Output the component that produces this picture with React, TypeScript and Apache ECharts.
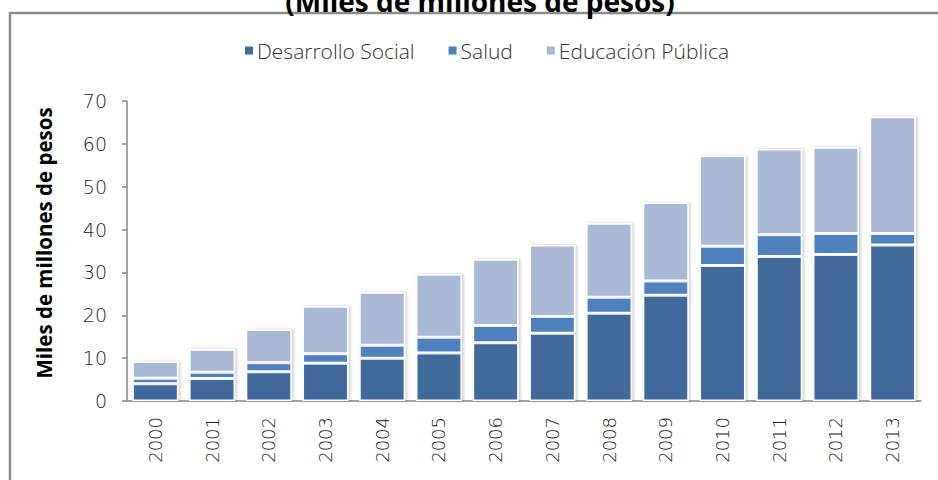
import React, { useEffect, useRef } from "react";
import * as echarts from "echarts";

const years = ["2000", "2001", "2002", "2003", "2004", "2005", "2006", "2007", "2008", "2009", "2010", "2011", "2012", "2013"];
const desarrolloSocial = [4.0, 5.25, 6.8, 8.8, 10.0, 11.2, 13.6, 15.8, 20.5, 24.7, 31.6, 33.7, 34.2, 36.4];
const salud = [1.3, 1.45, 2.1, 2.2, 3.0, 3.7, 4.0, 3.9, 3.7, 3.3, 4.5, 5.1, 4.9, 2.7];
const educacionPublica = [3.9, 5.4, 7.8, 11.1, 12.4, 14.7, 15.5, 16.7, 17.3, 18.3, 21.1, 20.0, 20.1, 27.2];
const seriesNames = ["Desarrollo Social", "Salud", "Educación Pública"];
const yTicks = { min: 0, max: 70, interval: 10 };
const titleText = "(Miles de millones de pesos)";
const yAxisTitle = "Miles de millones de pesos";

const colors = ["#3F6A9B", "#4F81BD", "#AAB9D6"];

export default function App() {
  const ref = useRef<HTMLDivElement>(null);
  useEffect(() => {
    if (!ref.current) return;
    const chart = echarts.init(ref.current, null, { renderer: "svg" });
    const barStyle = (c: string) => ({
      color: c,
      borderColor: "#ffffff",
      borderWidth: 1.5,
      shadowColor: "rgba(0,0,0,0.22)",
      shadowBlur: 3,
      shadowOffsetX: 1.5,
      shadowOffsetY: 0,
    });
    const data = [desarrolloSocial, salud, educacionPublica];
    chart.setOption({
      animation: false,
      backgroundColor: "#ffffff",
      color: colors,
      graphic: [
        {
          type: "rect",
          shape: { x: 10, y: 13, width: 1000, height: 600 },
          style: { fill: "none", stroke: "#8a8a8a", lineWidth: 2.5 },
          z: 0,
        },
        {
          type: "text",
          x: 480,
          y: 1,
          style: {
            text: titleText,
            fontFamily: "Open Sans",
            fontWeight: "bold",
            fontSize: 28,
            fill: "#000000",
            align: "center",
            verticalAlign: "middle",
          },
        },
        {
          type: "text",
          x: 44,
          y: 243,
          rotation: Math.PI / 2,
          style: {
            text: yAxisTitle,
            fontFamily: "Open Sans",
            fontWeight: "bold",
            fontSize: 20.5,
            fill: "#000000",
            align: "center",
            verticalAlign: "middle",
          },
        },
      ],
      legend: {
        top: 35,
        left: 238,
        itemWidth: 10,
        itemHeight: 10,
        itemGap: 32,
        icon: "rect",
        data: seriesNames,
        textStyle: { fontFamily: "Open Sans", fontSize: 21, fontWeight: 300, color: "#333333", padding: [0, 0, 0, -2] },
      },
      grid: { left: 127, right: 17, top: 101, bottom: 79, containLabel: false },
      xAxis: {
        type: "category",
        data: years,
        axisLine: { lineStyle: { color: "#868686", width: 1.5 } },
        axisTick: { show: false },
        axisLabel: {
          rotate: 90,
          margin: 16,
          fontFamily: "DejaVu Sans",
          fontWeight: 200,
          fontSize: 18,
          color: "#222222",
        },
      },
      yAxis: {
        type: "value",
        min: yTicks.min,
        max: yTicks.max,
        interval: yTicks.interval,
        axisLine: { show: true, lineStyle: { color: "#868686", width: 1.5 } },
        axisTick: { show: true, length: 5, lineStyle: { color: "#868686", width: 1.5 } },
        splitLine: { show: false },
        axisLabel: {
          margin: 20,
          fontFamily: "DejaVu Sans",
          fontWeight: 200,
          fontSize: 19,
          color: "#222222",
        },
      },
      series: seriesNames.map((name, i) => ({
        name,
        type: "bar",
        stack: "total",
        barCategoryGap: "19%",
        itemStyle: barStyle(colors[i]),
        data: data[i],
      })),
    });
    return () => chart.dispose();
  }, []);
  return (
    <div
      ref={ref}
      style={{ position: "fixed", left: 0, top: 0, width: 938, height: 480 }}
    />
  );
}
